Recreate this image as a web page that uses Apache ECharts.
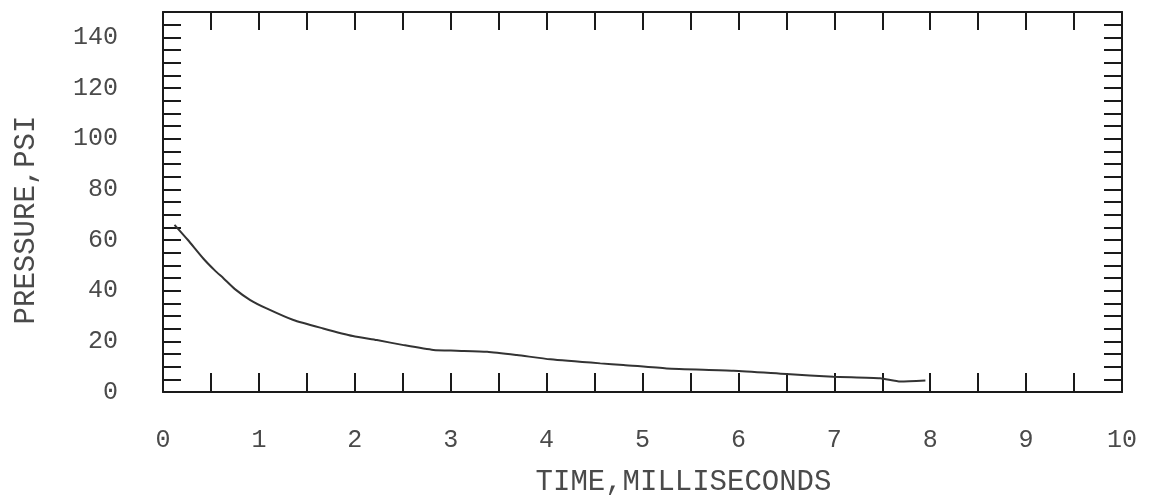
<!DOCTYPE html>
<html>
<head>
<meta charset="utf-8">
<style>
  html, body { margin: 0; padding: 0; background: #fff; }
  #chart { width: 1152px; height: 495px; }
</style>
<script src="https://cdn.jsdelivr.net/npm/echarts@6/dist/echarts.min.js"></script>
</head>
<body>
<div id="chart"></div>
<script>
// Pressure decay trace, time in milliseconds vs pressure in psi
const timeMs = [0.12, 0.26, 0.42, 0.54, 0.63, 0.75, 0.91, 1.08, 1.36, 1.67, 1.98, 2.23, 2.51, 2.82, 3.06, 3.38, 3.69, 4.04, 4.56, 4.80, 5.25, 5.95, 6.50, 6.99, 7.48, 7.69, 7.95];
const pressurePsi = [66.0, 60.0, 52.7, 48.0, 44.9, 40.6, 36.3, 33.0, 28.4, 25.1, 22.1, 20.5, 18.5, 16.6, 16.3, 15.9, 14.6, 12.9, 11.3, 10.7, 9.3, 8.4, 7.1, 6.0, 5.4, 4.1, 4.5];

// Axis ranges and labelled ticks
const xRange = [0, 10];
const xTickStep = 0.5;
const xLabelValues = [0, 1, 2, 3, 4, 5, 6, 7, 8, 9, 10];
const yRange = [0, 150];
const yTickStep = 5;
const yLabelValues = [0, 20, 40, 60, 80, 100, 120, 140];

const xTitle = 'TIME,MILLISECONDS';
const yTitle = 'PRESSURE,PSI';

const FONT = 'Liberation Mono';
const INK = '#1a1a1a';
const TEXT = '#4a4a4a';

const frameAxis = (extra) => Object.assign({
  type: 'value',
  axisLine: { show: true, onZero: false, lineStyle: { color: INK, width: 2 } },
  axisTick: { show: true, inside: true, length: 18, lineStyle: { color: INK, width: 2 } },
  splitLine: { show: false },
  axisLabel: { show: false }
}, extra);

const chart = echarts.init(document.getElementById('chart'), null, { renderer: 'canvas' });
chart.setOption({
  backgroundColor: '#ffffff',
  animation: false,
  grid: { left: 163, right: 30, top: 12, bottom: 103, containLabel: false, outerBoundsMode: 'none' },
  xAxis: [
    frameAxis({
      position: 'bottom',
      min: xRange[0], max: xRange[1], interval: xTickStep,
      axisTick: { show: true, inside: true, length: 19, lineStyle: { color: INK, width: 2 } },
      axisLabel: {
        show: true, margin: 36, color: TEXT, fontFamily: FONT, fontSize: 25,
        formatter: (v) => xLabelValues.includes(v) ? String(v) : ''
      },
      name: xTitle, nameLocation: 'middle', nameGap: 76,
      nameTextStyle: { color: TEXT, fontFamily: FONT, fontSize: 29, padding: [0, 0, 0, 82] }
    }),
    frameAxis({ position: 'top', min: xRange[0], max: xRange[1], interval: xTickStep })
  ],
  yAxis: [
    frameAxis({
      position: 'left',
      min: yRange[0], max: yRange[1], interval: yTickStep,
      axisLabel: {
        show: true, margin: 45, color: TEXT, fontFamily: FONT, fontSize: 25,
        formatter: (v) => yLabelValues.includes(v) ? String(v) : ''
      },
      name: yTitle, nameLocation: 'middle', nameGap: 122, nameRotate: 90,
      nameTextStyle: { color: TEXT, fontFamily: FONT, fontSize: 29, padding: [0, 36, 0, 0] }
    }),
    frameAxis({ position: 'right', min: yRange[0], max: yRange[1], interval: yTickStep })
  ],
  series: [{
    type: 'line',
    data: timeMs.map((t, i) => [t, pressurePsi[i]]),
    showSymbol: false,
    smooth: 0.2,
    lineStyle: { color: '#333333', width: 2 }
  }]
});
</script>
</body>
</html>
